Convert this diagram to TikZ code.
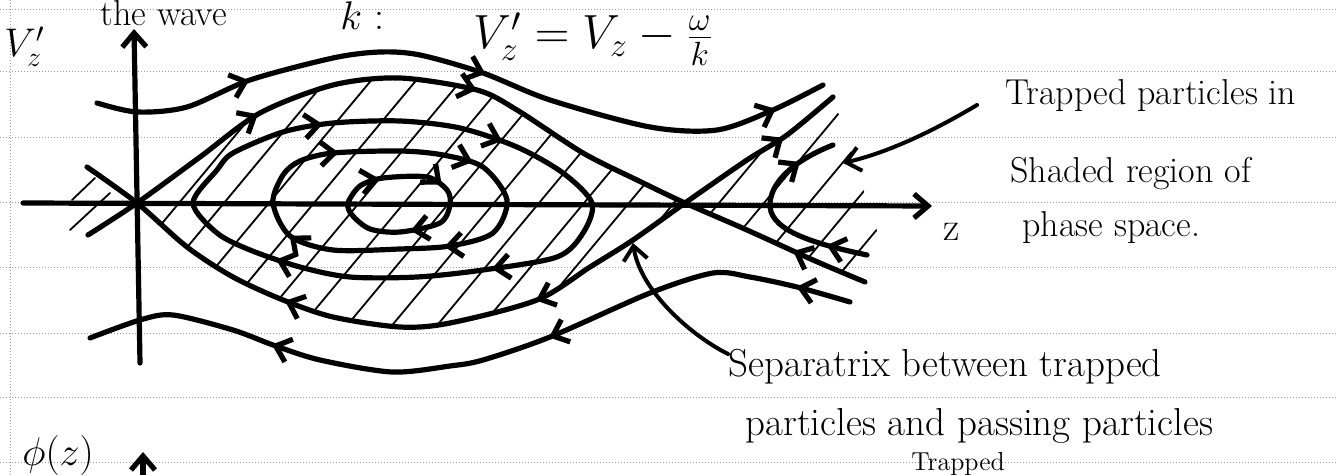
\RequirePackage{fix-cm}
\documentclass[tikz,border=0pt]{standalone}
\usetikzlibrary{arrows.meta,decorations.markings}

\begin{document}
\begin{tikzpicture}[x=0.5pt, y=-0.5pt,
    >={Straight Barb[length=7pt,width=12pt]},
    phasecurve/.style={line width=2.6pt, line cap=round, line join=round},
    axisline/.style={phasecurve, ->},
    hatch/.style={line width=0.9pt, line cap=round},
    ruled/.style={black!40, densely dotted, line width=0.5pt},
    note/.style={font=\fontsize{18}{20}\selectfont, anchor=base west, inner sep=0pt},
    bignote/.style={note, font=\fontsize{19.5}{22}\selectfont},
    flowat/.style={postaction={decorate, decoration={markings, mark=at position #1 with {\arrow{>}}}}},
    backat/.style={postaction={decorate, decoration={markings, mark=at position #1 with {\arrowreversed{>}}}}},
    pointer/.style={line width=2pt, line cap=round, ->},
]
\useasboundingbox (0,0) rectangle (1336,475);
\clip (0,0) rectangle (1336,475);

% ruled notebook paper
\foreach \y in {10,72,138,203,268,333,397,462}
  \draw[ruled] (0,\y) -- (1336,\y);
\draw[ruled] (10,0) -- (10,475);

% shaded (trapped) region
\begin{scope}
  \clip plot[smooth] coordinates {(137,203) (200,157) (260,113) (333,85) (400,78) (477,90) (517,110) (583,153) (637,180) (685,203)}
     -- plot[smooth] coordinates {(685,203) (633,240) (590,267) (537,300) (450,323) (400,327) (333,317) (283,300) (233,277) (187,247) (137,203)} -- cycle
     (685,203) -- (747,160) -- (787,135) -- (833,97) -- (880,240) -- (865,282) -- (813,260) -- (747,230) -- cycle;
  \foreach \i in {0,...,16}
    \draw[hatch] ({179+45*\i-170},407) -- ({179+45*\i+170},-1);
\end{scope}
\draw[hatch] (72,200) -- (95,178);
\draw[hatch] (70,230) -- (110,193);

% axes
\draw[axisline] (23,203) -- (932,206);
\draw[axisline] (140,363) -- (134,29);
\draw[axisline] (143,480) -- (143,452);

% separatrix
\draw[phasecurve, flowat=.24, flowat=.5, backat=.91] plot[smooth] coordinates {(88,235) (137,203) (200,157) (260,113) (333,85) (400,78) (477,90) (517,110) (583,153) (637,180) (685,203) (747,230) (813,260) (865,282)};
\draw[phasecurve, backat=.28, backat=.58, flowat=.925] plot[smooth] coordinates {(87,167) (137,203) (187,247) (233,277) (283,300) (333,317) (400,327) (450,323) (537,300) (590,267) (633,240) (685,203) (747,160) (787,135) (833,97)};

% closed (trapped) orbits
\draw[phasecurve, flowat=.13, flowat=.33, flowat=.6, flowat=.84] plot[smooth cycle] coordinates {(193,203) (217,170) (233,153) (283,132) (333,123) (400,121) (460,128) (517,147) (563,173) (592,203) (583,233) (557,257) (483,270) (417,277) (350,277) (300,267) (250,250) (217,233)};
\draw[phasecurve, flowat=.11, flowat=.35, flowat=.6, flowat=.88] plot[smooth cycle] coordinates {(273,203) (283,175) (300,161) (333,153) (400,151) (443,155) (483,167) (507,200) (493,233) (450,246) (400,249) (333,250) (290,236)};
\draw[phasecurve, flowat=.08, flowat=.33, flowat=.62] plot[smooth cycle] coordinates {(348,203) (360,186) (383,178) (427,177) (447,190) (450,205) (440,223) (400,232) (370,229) (352,215)};
\draw[phasecurve, flowat=.2, flowat=.82] (867,255) .. controls (805,242) and (768,228) .. (770,203) .. controls (772,178) and (800,158) .. (833,145);

% passing orbits
\draw[phasecurve, flowat=.21, flowat=.53, flowat=.93] plot[smooth] coordinates {(97,103) (137,112) (187,107) (250,80) (333,58) (380,52) (420,55) (483,73) (550,100) (650,127) (717,130) (773,110) (823,85)};
\draw[phasecurve, backat=.24, backat=.6, backat=.93] plot[smooth] coordinates {(90,338) (140,320) (173,315) (233,330) (273,345) (320,360) (392,372) (450,366) (483,360) (550,337) (650,293) (713,273) (750,277) (797,287) (850,302)};

% labels
\node[note] (wave) at (100,26) {the wave};
\node[note, font=\fontsize{20}{22}\selectfont] (kden) at (340,30) {$k$ :};
\node[note, font=\fontsize{24}{26}\selectfont] (vtrans) at (473,49) {$V_z' = V_z - \frac{\omega}{k}$};
\node[note, font=\fontsize{20}{22}\selectfont] (vlabel) at (4,57) {$V_z'$};
\node[font=\fontsize{20}{22}\selectfont, inner sep=0pt] (zlabel) at (952,232) {z};
\node[note, font=\fontsize{20}{22}\selectfont] (philabel) at (22,465) {$\phi(z)$};

\node[note] (trapA) at (1005,105) {Trapped particles in};
\node[note] (trapB) at (1010,183) {Shaded region of};
\node[note] (trapC) at (1022,237) {phase space.};
\node[bignote] (sepA) at (728,376) {Separatrix between trapped};
\node[bignote] (sepB) at (745,435) {particles and passing particles};
\node[note, font=\fontsize{13}{15}\selectfont] (trapD) at (911,470) {Trapped};

\coordinate (traptip) at (843,163);
\coordinate (septip) at (633,243);
\draw[pointer] ([xshift=-14pt]trapA.base west) .. controls (935,130) and (890,152) .. (traptip);
\draw[pointer] ([yshift=11pt]sepA.base west) .. controls (690,335) and (640,290) .. (septip);
\end{tikzpicture}
\end{document}
